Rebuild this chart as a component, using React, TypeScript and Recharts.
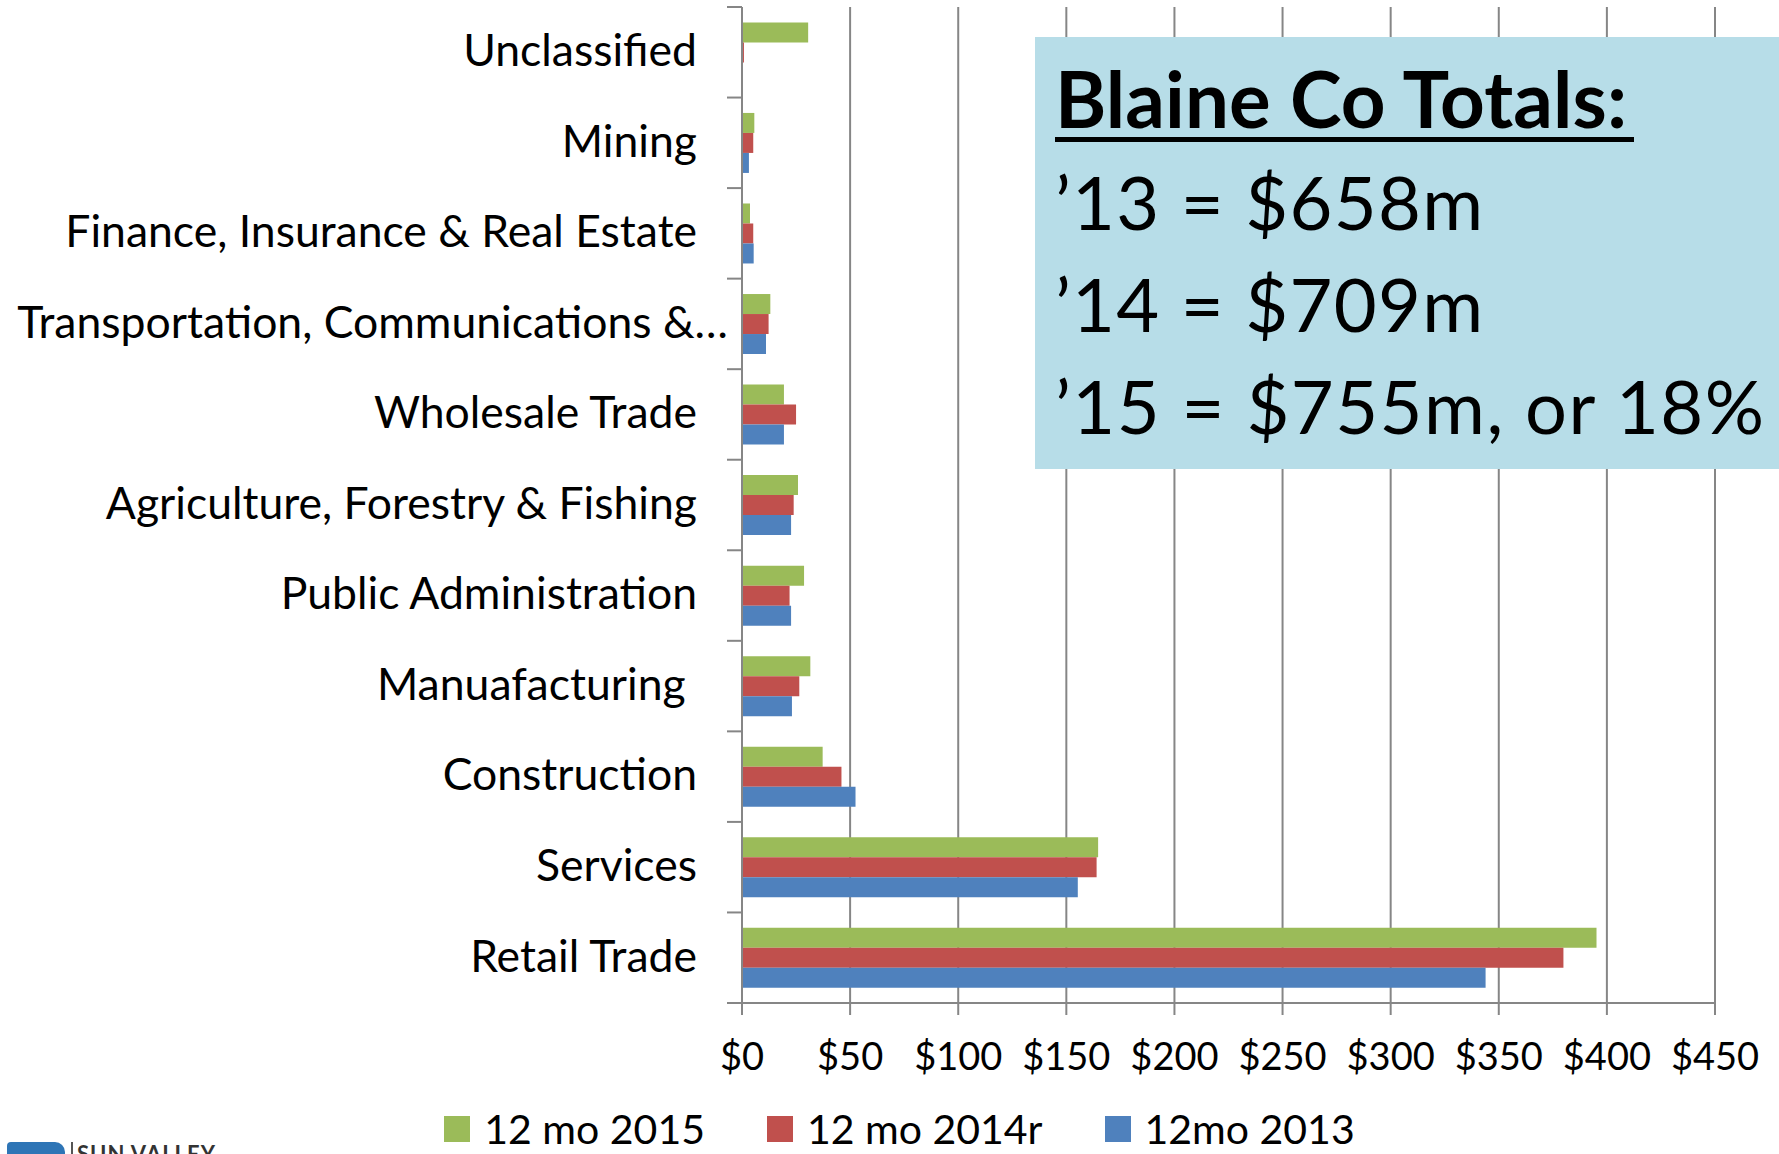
import { BarChart, Bar, XAxis, YAxis, CartesianGrid, Legend } from 'recharts'

const categories = [
  'Unclassified',
  'Mining',
  'Finance, Insurance & Real Estate',
  'Transportation, Communications & Utilities',
  'Wholesale Trade',
  'Agriculture, Forestry & Fishing',
  'Public Administration',
  'Manuafacturing\u00a0',
  'Construction',
  'Services',
  'Retail Trade',
]
const mo2015 = [30.6, 5.7, 3.7, 13.1, 19.4, 25.9, 28.7, 31.6, 37.3, 164.7, 395.2]
const mo2014r = [0.9, 5.2, 5.2, 12.3, 25.0, 23.9, 22.0, 26.5, 46.0, 164.0, 379.9]
const mo2013 = [0, 3.2, 5.4, 11.1, 19.4, 22.7, 22.7, 23.1, 52.5, 155.3, 343.9]
const xTicks = [0, 50, 100, 150, 200, 250, 300, 350, 400, 450]
const totals = ['\u201913 = $658m', '\u201914 = $709m', '\u201915 = $755m, or 18%']
const totalWidths = [428, 428, 709]

const series = [
  { key: 'mo2015', name: '12 mo 2015', color: '#9BBB59' },
  { key: 'mo2014r', name: '12 mo 2014r', color: '#C0504D' },
  { key: 'mo2013', name: '12mo 2013', color: '#4F81BD' },
]

const data = categories.map((name, i) => ({
  name,
  mo2015: mo2015[i],
  mo2014r: mo2014r[i],
  mo2013: mo2013[i],
}))

const W = 1779
const H = 1154
const PLOT_LEFT = 742
const PLOT_TOP = 7
const PLOT_BOTTOM = 1003
const PLOT_RIGHT = 1715
const BAND = (PLOT_BOTTOM - PLOT_TOP) / categories.length
const FONT = 'Lato, "Open Sans", sans-serif'
const GRID = '#868686'

function CategoryTick(props: any) {
  const { y, payload, index } = props
  const raw: string = payload.value
  const cut = raw.length > 33
  const label = cut ? raw.slice(0, 32) + '\u2026' : raw
  const tx = PLOT_LEFT - 45 + (cut ? 31 : 0)
  return (
    <g>
      <line x1={PLOT_LEFT - 15} x2={PLOT_LEFT} y1={y - BAND / 2} y2={y - BAND / 2} stroke={GRID} strokeWidth={2} />
      {index === categories.length - 1 && (
        <line x1={PLOT_LEFT - 15} x2={PLOT_LEFT} y1={y + BAND / 2} y2={y + BAND / 2} stroke={GRID} strokeWidth={2} />
      )}
      <text x={tx} y={y - 2} dy="0.355em" textAnchor="end" fontSize={44.5} fontFamily={FONT} fill="#000">
        {label}
      </text>
    </g>
  )
}

function LegendBox() {
  return (
    <div style={{ display: 'flex', justifyContent: 'center', paddingLeft: 20, fontFamily: FONT, fontSize: 41, lineHeight: '34px' }}>
      {series.map((s) => (
        <div key={s.key} style={{ display: 'flex', alignItems: 'center', margin: '0 31px' }}>
          <span style={{ width: 26, height: 26, background: s.color, display: 'inline-block', marginRight: 14 }} />
          <span>{s.name}</span>
        </div>
      ))}
    </div>
  )
}

export default function App() {
  return (
    <div style={{ position: 'absolute', left: 0, top: 0, width: W, height: H, overflow: 'hidden', background: '#fff' }}>
      <BarChart
        width={W}
        height={H}
        data={data}
        layout="vertical"
        barCategoryGap="17%"
        barGap={0}
        margin={{ top: PLOT_TOP, right: W - PLOT_RIGHT, bottom: 0, left: 0 }}
      >
        <CartesianGrid horizontal={false} stroke={GRID} strokeWidth={2} />
        <XAxis
          type="number"
          domain={[0, 450]}
          ticks={xTicks}
          interval={0}
          tickFormatter={(v: number) => `$${v}`}
          height={H - PLOT_BOTTOM}
          stroke={GRID}
          strokeWidth={2}
          tickSize={12}
          tickMargin={28}
          tick={{ fontSize: 38, fontFamily: FONT, fill: '#000' }}
        />
        <YAxis
          type="category"
          dataKey="name"
          width={PLOT_LEFT}
          stroke={GRID}
          strokeWidth={2}
          tickLine={false}
          interval={0}
          tick={<CategoryTick />}
        />
        <Legend
          verticalAlign="middle"
          align="center"
          layout="horizontal"
          wrapperStyle={{ top: 1112, left: 0, width: W }}
          content={() => <LegendBox />}
        />
        {series.map((s) => (
          <Bar key={s.key} dataKey={s.key} name={s.name} fill={s.color} isAnimationActive={false} />
        ))}
      </BarChart>

      <svg style={{ position: 'absolute', left: 1035, top: 37 }} width={W - 1035} height={432}>
        <rect x={0} y={0} width={W - 1035} height={432} fill="#B7DDE8" />
        <text x={20} y={91} fontSize={78} fontWeight={700} fontFamily={FONT} fill="#000" textLength={572} lengthAdjust="spacing">
          Blaine Co Totals:
        </text>
        <rect x={20} y={100} width={579} height={5} fill="#000" />
        {totals.map((t, i) => (
          <text
            key={t}
            x={20}
            y={193 + i * 102}
            fontSize={74}
            fontFamily={FONT}
            fill="#000"
            textLength={totalWidths[i]}
            lengthAdjust="spacing"
          >
            {t}
          </text>
        ))}
      </svg>

      <div style={{ position: 'absolute', left: 7, top: 1142, width: 58, height: 20, background: '#2E75B6', borderRadius: '4px 10px 0 0' }} />
      <div style={{ position: 'absolute', left: 71, top: 1142, width: 2, height: 20, background: '#555' }} />
      <div style={{ position: 'absolute', left: 77, top: 1143, fontFamily: FONT, fontWeight: 700, fontSize: 22, color: '#333', lineHeight: '22px', letterSpacing: 1 }}>
        SUN VALLEY
      </div>
    </div>
  )
}
